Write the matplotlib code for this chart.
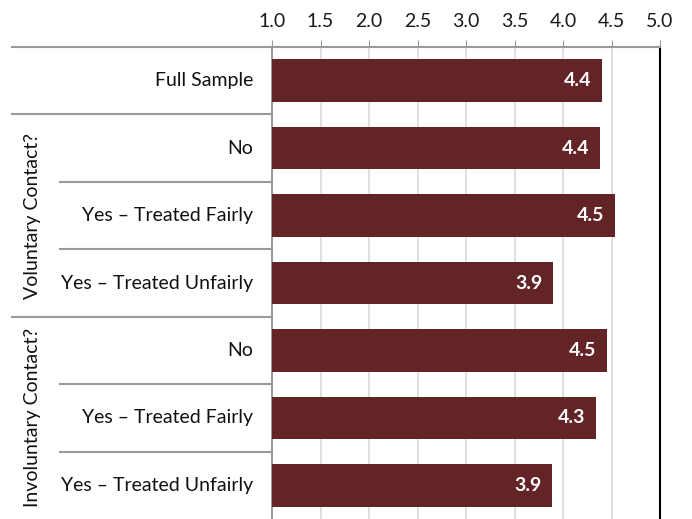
import matplotlib
matplotlib.use("Agg")
import matplotlib.pyplot as plt
from matplotlib.transforms import blended_transform_factory

categories = ["Full Sample", "No", "Yes \u2013 Treated Fairly", "Yes \u2013 Treated Unfairly",
              "No", "Yes \u2013 Treated Fairly", "Yes \u2013 Treated Unfairly"]
values = [4.40, 4.38, 4.54, 3.90, 4.45, 4.34, 3.89]
value_labels = ["4.4", "4.4", "4.5", "3.9", "4.5", "4.3", "3.9"]
groups = ["Voluntary Contact?", "Involuntary Contact?"]
group_rows = [(1, 3), (4, 6)]
xticks = [1.0, 1.5, 2.0, 2.5, 3.0, 3.5, 4.0, 4.5, 5.0]

plt.rcParams['font.family'] = ['Lato', 'DejaVu Sans']
bar_color = "#632427"
line_gray = "#9a9a9a"
fs = 14

fig = plt.figure(figsize=(6.92, 5.19), dpi=100)
ax = fig.add_axes([272/692, 0.0, (660-272)/692, 1 - 47/519])

n = len(categories)
ys = list(range(n))
ax.barh(ys, [v - 1.0 for v in values], left=1.0, height=0.63, color=bar_color, zorder=3)
ax.set_xlim(1.0, 5.0)
ax.set_ylim(n - 0.5, -0.5)

ax.xaxis.tick_top()
ax.set_xticks(xticks)
ax.set_xticklabels([f"{t:.1f}" for t in xticks], fontsize=fs)
ax.tick_params(axis='x', direction='out', length=5, color=line_gray, pad=7, labelcolor="#1a1a1a")
ax.set_yticks([])
ax.grid(axis='x', color="#d9d9d9", linewidth=1.2, zorder=0)

ax.spines['bottom'].set_visible(False)
ax.spines['left'].set_color(line_gray)
ax.spines['left'].set_linewidth(1.5)
ax.spines['top'].set_color(line_gray)
ax.spines['top'].set_linewidth(1.5)
ax.spines['right'].set_color("black")
ax.spines['right'].set_linewidth(1.5)

for y, v, lab in zip(ys, values, value_labels):
    ax.text(v - 0.11, y, lab, ha='right', va='center', color='white',
            fontsize=fs, fontweight='bold', zorder=4)

trans = blended_transform_factory(fig.transFigure, ax.transData)
for y, lab in zip(ys, categories):
    ax.text(253/692, y, lab, transform=trans, ha='right', va='center', fontsize=fs, color="#111111")

# separator lines
outer = [-0.5, 0.5, 3.5]
inner = [1.5, 2.5, 4.5, 5.5]
for y in outer:
    ax.plot([12/692, 272/692], [y, y], transform=trans, color=line_gray, lw=1.5, clip_on=False)
for y in inner:
    ax.plot([60/692, 272/692], [y, y], transform=trans, color=line_gray, lw=1.5, clip_on=False)

for g, (a, b) in zip(groups, group_rows):
    ax.text(33/692, (a + b) / 2, g, transform=trans, rotation=90, ha='center', va='center',
            fontsize=fs, color="#111111")

fig.savefig("out.png", dpi=100)
